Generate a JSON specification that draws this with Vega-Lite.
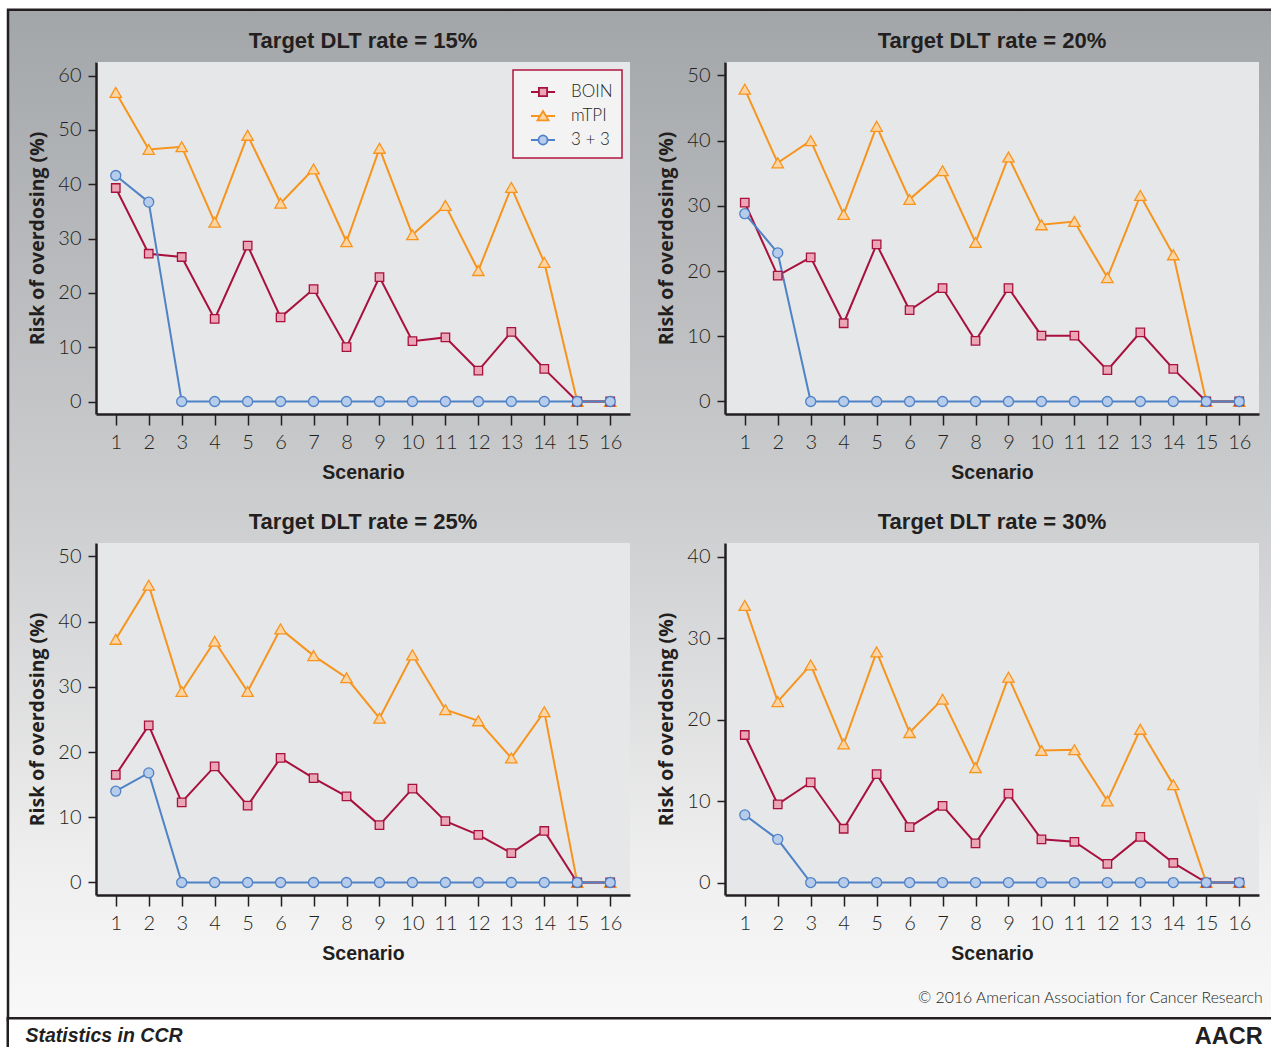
{
"$schema": "https://vega.github.io/schema/vega-lite/v6.json",
"padding": {"left": 6, "top": 8, "right": 0, "bottom": 0},
"background": "#ffffff",
"title": {"text": "AACR", "orient": "bottom", "anchor": "end", "offset": -31, "dx": -83, "font": "Liberation Sans", "fontSize": 23.5, "fontWeight": "bold", "color": "#231f20", "frame": "bounds"},
"datasets": {"risk": [
{"target":15,"method":"mTPI","scenario":1,"risk":56.9},{"target":15,"method":"mTPI","scenario":2,"risk":46.4},{"target":15,"method":"mTPI","scenario":3,"risk":46.9},{"target":15,"method":"mTPI","scenario":4,"risk":33.0},{"target":15,"method":"mTPI","scenario":5,"risk":49.0},{"target":15,"method":"mTPI","scenario":6,"risk":36.5},{"target":15,"method":"mTPI","scenario":7,"risk":42.8},{"target":15,"method":"mTPI","scenario":8,"risk":29.4},{"target":15,"method":"mTPI","scenario":9,"risk":46.6},{"target":15,"method":"mTPI","scenario":10,"risk":30.7},{"target":15,"method":"mTPI","scenario":11,"risk":36.1},{"target":15,"method":"mTPI","scenario":12,"risk":24.1},{"target":15,"method":"mTPI","scenario":13,"risk":39.4},{"target":15,"method":"mTPI","scenario":14,"risk":25.6},{"target":15,"method":"mTPI","scenario":15,"risk":0},{"target":15,"method":"mTPI","scenario":16,"risk":0},
{"target":15,"method":"BOIN","scenario":1,"risk":39.3},{"target":15,"method":"BOIN","scenario":2,"risk":27.2},{"target":15,"method":"BOIN","scenario":3,"risk":26.6},{"target":15,"method":"BOIN","scenario":4,"risk":15.2},{"target":15,"method":"BOIN","scenario":5,"risk":28.7},{"target":15,"method":"BOIN","scenario":6,"risk":15.5},{"target":15,"method":"BOIN","scenario":7,"risk":20.7},{"target":15,"method":"BOIN","scenario":8,"risk":10.0},{"target":15,"method":"BOIN","scenario":9,"risk":22.9},{"target":15,"method":"BOIN","scenario":10,"risk":11.1},{"target":15,"method":"BOIN","scenario":11,"risk":11.8},{"target":15,"method":"BOIN","scenario":12,"risk":5.7},{"target":15,"method":"BOIN","scenario":13,"risk":12.8},{"target":15,"method":"BOIN","scenario":14,"risk":6.0},{"target":15,"method":"BOIN","scenario":15,"risk":0},{"target":15,"method":"BOIN","scenario":16,"risk":0},
{"target":15,"method":"3 + 3","scenario":1,"risk":41.6},{"target":15,"method":"3 + 3","scenario":2,"risk":36.7},{"target":15,"method":"3 + 3","scenario":3,"risk":0},{"target":15,"method":"3 + 3","scenario":4,"risk":0},{"target":15,"method":"3 + 3","scenario":5,"risk":0},{"target":15,"method":"3 + 3","scenario":6,"risk":0},{"target":15,"method":"3 + 3","scenario":7,"risk":0},{"target":15,"method":"3 + 3","scenario":8,"risk":0},{"target":15,"method":"3 + 3","scenario":9,"risk":0},{"target":15,"method":"3 + 3","scenario":10,"risk":0},{"target":15,"method":"3 + 3","scenario":11,"risk":0},{"target":15,"method":"3 + 3","scenario":12,"risk":0},{"target":15,"method":"3 + 3","scenario":13,"risk":0},{"target":15,"method":"3 + 3","scenario":14,"risk":0},{"target":15,"method":"3 + 3","scenario":15,"risk":0},{"target":15,"method":"3 + 3","scenario":16,"risk":0},
{"target":20,"method":"mTPI","scenario":1,"risk":47.9},{"target":20,"method":"mTPI","scenario":2,"risk":36.6},{"target":20,"method":"mTPI","scenario":3,"risk":40.0},{"target":20,"method":"mTPI","scenario":4,"risk":28.7},{"target":20,"method":"mTPI","scenario":5,"risk":42.2},{"target":20,"method":"mTPI","scenario":6,"risk":31.0},{"target":20,"method":"mTPI","scenario":7,"risk":35.4},{"target":20,"method":"mTPI","scenario":8,"risk":24.4},{"target":20,"method":"mTPI","scenario":9,"risk":37.5},{"target":20,"method":"mTPI","scenario":10,"risk":27.1},{"target":20,"method":"mTPI","scenario":11,"risk":27.6},{"target":20,"method":"mTPI","scenario":12,"risk":19.0},{"target":20,"method":"mTPI","scenario":13,"risk":31.6},{"target":20,"method":"mTPI","scenario":14,"risk":22.5},{"target":20,"method":"mTPI","scenario":15,"risk":0},{"target":20,"method":"mTPI","scenario":16,"risk":0},
{"target":20,"method":"BOIN","scenario":1,"risk":30.5},{"target":20,"method":"BOIN","scenario":2,"risk":19.3},{"target":20,"method":"BOIN","scenario":3,"risk":22.1},{"target":20,"method":"BOIN","scenario":4,"risk":12.0},{"target":20,"method":"BOIN","scenario":5,"risk":24.1},{"target":20,"method":"BOIN","scenario":6,"risk":14.0},{"target":20,"method":"BOIN","scenario":7,"risk":17.4},{"target":20,"method":"BOIN","scenario":8,"risk":9.3},{"target":20,"method":"BOIN","scenario":9,"risk":17.4},{"target":20,"method":"BOIN","scenario":10,"risk":10.1},{"target":20,"method":"BOIN","scenario":11,"risk":10.1},{"target":20,"method":"BOIN","scenario":12,"risk":4.8},{"target":20,"method":"BOIN","scenario":13,"risk":10.6},{"target":20,"method":"BOIN","scenario":14,"risk":5.0},{"target":20,"method":"BOIN","scenario":15,"risk":0},{"target":20,"method":"BOIN","scenario":16,"risk":0},
{"target":20,"method":"3 + 3","scenario":1,"risk":28.8},{"target":20,"method":"3 + 3","scenario":2,"risk":22.8},{"target":20,"method":"3 + 3","scenario":3,"risk":0},{"target":20,"method":"3 + 3","scenario":4,"risk":0},{"target":20,"method":"3 + 3","scenario":5,"risk":0},{"target":20,"method":"3 + 3","scenario":6,"risk":0},{"target":20,"method":"3 + 3","scenario":7,"risk":0},{"target":20,"method":"3 + 3","scenario":8,"risk":0},{"target":20,"method":"3 + 3","scenario":9,"risk":0},{"target":20,"method":"3 + 3","scenario":10,"risk":0},{"target":20,"method":"3 + 3","scenario":11,"risk":0},{"target":20,"method":"3 + 3","scenario":12,"risk":0},{"target":20,"method":"3 + 3","scenario":13,"risk":0},{"target":20,"method":"3 + 3","scenario":14,"risk":0},{"target":20,"method":"3 + 3","scenario":15,"risk":0},{"target":20,"method":"3 + 3","scenario":16,"risk":0},
{"target":25,"method":"mTPI","scenario":1,"risk":37.3},{"target":25,"method":"mTPI","scenario":2,"risk":45.6},{"target":25,"method":"mTPI","scenario":3,"risk":29.3},{"target":25,"method":"mTPI","scenario":4,"risk":37.0},{"target":25,"method":"mTPI","scenario":5,"risk":29.3},{"target":25,"method":"mTPI","scenario":6,"risk":38.9},{"target":25,"method":"mTPI","scenario":7,"risk":34.8},{"target":25,"method":"mTPI","scenario":8,"risk":31.4},{"target":25,"method":"mTPI","scenario":9,"risk":25.2},{"target":25,"method":"mTPI","scenario":10,"risk":34.9},{"target":25,"method":"mTPI","scenario":11,"risk":26.5},{"target":25,"method":"mTPI","scenario":12,"risk":24.8},{"target":25,"method":"mTPI","scenario":13,"risk":19.1},{"target":25,"method":"mTPI","scenario":14,"risk":26.2},{"target":25,"method":"mTPI","scenario":15,"risk":0},{"target":25,"method":"mTPI","scenario":16,"risk":0},
{"target":25,"method":"BOIN","scenario":1,"risk":16.5},{"target":25,"method":"BOIN","scenario":2,"risk":24.1},{"target":25,"method":"BOIN","scenario":3,"risk":12.3},{"target":25,"method":"BOIN","scenario":4,"risk":17.8},{"target":25,"method":"BOIN","scenario":5,"risk":11.8},{"target":25,"method":"BOIN","scenario":6,"risk":19.1},{"target":25,"method":"BOIN","scenario":7,"risk":16.0},{"target":25,"method":"BOIN","scenario":8,"risk":13.2},{"target":25,"method":"BOIN","scenario":9,"risk":8.8},{"target":25,"method":"BOIN","scenario":10,"risk":14.4},{"target":25,"method":"BOIN","scenario":11,"risk":9.4},{"target":25,"method":"BOIN","scenario":12,"risk":7.3},{"target":25,"method":"BOIN","scenario":13,"risk":4.5},{"target":25,"method":"BOIN","scenario":14,"risk":7.9},{"target":25,"method":"BOIN","scenario":15,"risk":0},{"target":25,"method":"BOIN","scenario":16,"risk":0},
{"target":25,"method":"3 + 3","scenario":1,"risk":14.0},{"target":25,"method":"3 + 3","scenario":2,"risk":16.8},{"target":25,"method":"3 + 3","scenario":3,"risk":0},{"target":25,"method":"3 + 3","scenario":4,"risk":0},{"target":25,"method":"3 + 3","scenario":5,"risk":0},{"target":25,"method":"3 + 3","scenario":6,"risk":0},{"target":25,"method":"3 + 3","scenario":7,"risk":0},{"target":25,"method":"3 + 3","scenario":8,"risk":0},{"target":25,"method":"3 + 3","scenario":9,"risk":0},{"target":25,"method":"3 + 3","scenario":10,"risk":0},{"target":25,"method":"3 + 3","scenario":11,"risk":0},{"target":25,"method":"3 + 3","scenario":12,"risk":0},{"target":25,"method":"3 + 3","scenario":13,"risk":0},{"target":25,"method":"3 + 3","scenario":14,"risk":0},{"target":25,"method":"3 + 3","scenario":15,"risk":0},{"target":25,"method":"3 + 3","scenario":16,"risk":0},
{"target":30,"method":"mTPI","scenario":1,"risk":34.0},{"target":30,"method":"mTPI","scenario":2,"risk":22.2},{"target":30,"method":"mTPI","scenario":3,"risk":26.7},{"target":30,"method":"mTPI","scenario":4,"risk":17.0},{"target":30,"method":"mTPI","scenario":5,"risk":28.3},{"target":30,"method":"mTPI","scenario":6,"risk":18.4},{"target":30,"method":"mTPI","scenario":7,"risk":22.5},{"target":30,"method":"mTPI","scenario":8,"risk":14.1},{"target":30,"method":"mTPI","scenario":9,"risk":25.2},{"target":30,"method":"mTPI","scenario":10,"risk":16.2},{"target":30,"method":"mTPI","scenario":11,"risk":16.3},{"target":30,"method":"mTPI","scenario":12,"risk":10.0},{"target":30,"method":"mTPI","scenario":13,"risk":18.8},{"target":30,"method":"mTPI","scenario":14,"risk":12.0},{"target":30,"method":"mTPI","scenario":15,"risk":0},{"target":30,"method":"mTPI","scenario":16,"risk":0},
{"target":30,"method":"BOIN","scenario":1,"risk":18.1},{"target":30,"method":"BOIN","scenario":2,"risk":9.6},{"target":30,"method":"BOIN","scenario":3,"risk":12.3},{"target":30,"method":"BOIN","scenario":4,"risk":6.6},{"target":30,"method":"BOIN","scenario":5,"risk":13.3},{"target":30,"method":"BOIN","scenario":6,"risk":6.8},{"target":30,"method":"BOIN","scenario":7,"risk":9.4},{"target":30,"method":"BOIN","scenario":8,"risk":4.8},{"target":30,"method":"BOIN","scenario":9,"risk":10.9},{"target":30,"method":"BOIN","scenario":10,"risk":5.3},{"target":30,"method":"BOIN","scenario":11,"risk":5.0},{"target":30,"method":"BOIN","scenario":12,"risk":2.3},{"target":30,"method":"BOIN","scenario":13,"risk":5.6},{"target":30,"method":"BOIN","scenario":14,"risk":2.4},{"target":30,"method":"BOIN","scenario":15,"risk":0},{"target":30,"method":"BOIN","scenario":16,"risk":0},
{"target":30,"method":"3 + 3","scenario":1,"risk":8.3},{"target":30,"method":"3 + 3","scenario":2,"risk":5.3},{"target":30,"method":"3 + 3","scenario":3,"risk":0},{"target":30,"method":"3 + 3","scenario":4,"risk":0},{"target":30,"method":"3 + 3","scenario":5,"risk":0},{"target":30,"method":"3 + 3","scenario":6,"risk":0},{"target":30,"method":"3 + 3","scenario":7,"risk":0},{"target":30,"method":"3 + 3","scenario":8,"risk":0},{"target":30,"method":"3 + 3","scenario":9,"risk":0},{"target":30,"method":"3 + 3","scenario":10,"risk":0},{"target":30,"method":"3 + 3","scenario":11,"risk":0},{"target":30,"method":"3 + 3","scenario":12,"risk":0},{"target":30,"method":"3 + 3","scenario":13,"risk":0},{"target":30,"method":"3 + 3","scenario":14,"risk":0},{"target":30,"method":"3 + 3","scenario":15,"risk":0},{"target":30,"method":"3 + 3","scenario":16,"risk":0}
]},
"columns": 1,
"align": {"row": "none", "column": "each"},
"spacing": {"row": -5.5, "column": 0},
"concat": [
 {
  "columns": 1,
  "align": {"row": "none", "column": "each"},
  "center": {"row": false, "column": true},
  "spacing": {"row": -993, "column": 0},
  "concat": [
   {
    "width": 1334, "height": 1008,
    "data": {"values": [{}]},
    "mark": {"type": "rect", "color": {"gradient": "linear", "x1": 0, "y1": 0, "x2": 0, "y2": 1, "stops": [{"offset": 0, "color": "#a3a6a9"}, {"offset": 0.5, "color": "#cdced0"}, {"offset": 0.85, "color": "#efefef"}, {"offset": 1, "color": "#f8f8f8"}]}},
    "encoding": {},
    "view": {"stroke": "#231f20", "strokeWidth": 5},
    "title": {"text": "© 2016 American Association for Cancer Research", "orient": "bottom", "anchor": "end", "offset": -28.5, "dx": -80.5, "font": "Lato", "fontWeight": 300, "fontSize": 15.8, "color": "#231f20", "frame": "group"}
   },
   {
    "data": {"name": "risk"},
    "columns": 2,
    "align": "each",
    "spacing": {"row": 28, "column": 26},
    "resolve": {"scale": {"color": "independent"}, "legend": {"color": "independent"}},
    "concat": [
     {
      "title": {"text": "Target DLT rate = 15%"},
      "width": 534, "height": 352,
      "view": {"fill": "#e6e7e8", "stroke": null},
      "transform": [{"filter": "datum.target === 15"}],
      "encoding": {
       "x": {"field": "scenario", "type": "quantitative", "scale": {"domain": [0.4, 16.6], "nice": false, "zero": false}, "axis": {"title": "Scenario", "values": [1,2,3,4,5,6,7,8,9,10,11,12,13,14,15,16], "format": "d"}},
       "y": {"field": "risk", "type": "quantitative", "scale": {"domain": [-2.3, 62.49], "nice": false, "zero": false}, "axis": {"title": "Risk of overdosing (%)", "values": [0,10,20,30,40,50,60], "format": "d"}}
      },
      "layer": [
       {"mark": {"type": "line", "strokeWidth": 2}, "encoding": {"color": {"field": "method", "type": "nominal", "scale": {"domain": ["BOIN", "mTPI", "3 + 3"], "range": ["#a8113e", "#f7941d", "#4f82c6"]},
         "legend": {"title": null, "orient": "top-right", "offset": 8, "symbolSize": 576, "symbolStrokeWidth": 1.8, "labelFont": "Lato", "labelFontWeight": 300, "labelFontSize": 17, "labelColor": "#231f20", "labelOffset": 15, "rowPadding": 3, "padding": 9, "symbolOffset": 8, "fillColor": "#f3f3f4", "strokeColor": "#b2163e",
          "encode": {"symbols": {"update": {
           "shape": {"signal": "datum.value === 'BOIN' ? 'M-1,0H-0.34M0.34,0H1M-0.34,-0.34H0.34V0.34H-0.34Z' : datum.value === 'mTPI' ? 'M-1,0H-0.25M0.25,0H1M0,-0.42L0.46,0.36H-0.46Z' : 'M-1,0H-0.38M0.38,0H1M-0.38,0A0.38,0.38,0,1,0,0.38,0A0.38,0.38,0,1,0,-0.38,0Z'"},
           "fill": {"signal": "datum.value === 'BOIN' ? '#eaa6b5' : datum.value === 'mTPI' ? '#fdd4a3' : '#b7cceb'"},
           "fillOpacity": {"value": 1},
           "strokeWidth": {"value": 1.8},
           "opacity": {"value": 1}
          }}}}}}},
       {"transform": [{"filter": "datum.method === 'mTPI'"}], "mark": {"type": "point", "shape": "triangle-up", "size": 130, "filled": true, "fill": "#fdd4a3", "stroke": "#f7941d", "strokeWidth": 1.3, "opacity": 1}},
       {"transform": [{"filter": "datum.method === 'BOIN'"}], "mark": {"type": "point", "shape": "square", "size": 72, "filled": true, "fill": "#eaa6b5", "stroke": "#a8113e", "strokeWidth": 1.3, "opacity": 1}},
       {"transform": [{"filter": "datum.method === '3 + 3'"}], "mark": {"type": "point", "shape": "circle", "size": 100, "filled": true, "fill": "#b7cceb", "stroke": "#4f82c6", "strokeWidth": 1.3, "opacity": 1}}
      ]
     },
     {
      "title": {"text": "Target DLT rate = 20%"},
      "width": 534, "height": 352,
      "view": {"fill": "#e6e7e8", "stroke": null},
      "transform": [{"filter": "datum.target === 20"}],
      "encoding": {
       "x": {"field": "scenario", "type": "quantitative", "scale": {"domain": [0.4, 16.6], "nice": false, "zero": false}, "axis": {"title": "Scenario", "values": [1,2,3,4,5,6,7,8,9,10,11,12,13,14,15,16], "format": "d"}},
       "y": {"field": "risk", "type": "quantitative", "scale": {"domain": [-1.92, 52.07], "nice": false, "zero": false}, "axis": {"title": "Risk of overdosing (%)", "values": [0,10,20,30,40,50], "format": "d"}}
      },
      "layer": [
       {"mark": {"type": "line", "strokeWidth": 2}, "encoding": {"color": {"field": "method", "type": "nominal", "scale": {"domain": ["BOIN", "mTPI", "3 + 3"], "range": ["#a8113e", "#f7941d", "#4f82c6"]}, "legend": null}}},
       {"transform": [{"filter": "datum.method === 'mTPI'"}], "mark": {"type": "point", "shape": "triangle-up", "size": 130, "filled": true, "fill": "#fdd4a3", "stroke": "#f7941d", "strokeWidth": 1.3, "opacity": 1}},
       {"transform": [{"filter": "datum.method === 'BOIN'"}], "mark": {"type": "point", "shape": "square", "size": 72, "filled": true, "fill": "#eaa6b5", "stroke": "#a8113e", "strokeWidth": 1.3, "opacity": 1}},
       {"transform": [{"filter": "datum.method === '3 + 3'"}], "mark": {"type": "point", "shape": "circle", "size": 100, "filled": true, "fill": "#b7cceb", "stroke": "#4f82c6", "strokeWidth": 1.3, "opacity": 1}}
      ]
     },
     {
      "title": {"text": "Target DLT rate = 25%"},
      "width": 534, "height": 352,
      "view": {"fill": "#e6e7e8", "stroke": null},
      "transform": [{"filter": "datum.target === 25"}],
      "encoding": {
       "x": {"field": "scenario", "type": "quantitative", "scale": {"domain": [0.4, 16.6], "nice": false, "zero": false}, "axis": {"title": "Scenario", "values": [1,2,3,4,5,6,7,8,9,10,11,12,13,14,15,16], "format": "d"}},
       "y": {"field": "risk", "type": "quantitative", "scale": {"domain": [-1.92, 52.07], "nice": false, "zero": false}, "axis": {"title": "Risk of overdosing (%)", "values": [0,10,20,30,40,50], "format": "d"}}
      },
      "layer": [
       {"mark": {"type": "line", "strokeWidth": 2}, "encoding": {"color": {"field": "method", "type": "nominal", "scale": {"domain": ["BOIN", "mTPI", "3 + 3"], "range": ["#a8113e", "#f7941d", "#4f82c6"]}, "legend": null}}},
       {"transform": [{"filter": "datum.method === 'mTPI'"}], "mark": {"type": "point", "shape": "triangle-up", "size": 130, "filled": true, "fill": "#fdd4a3", "stroke": "#f7941d", "strokeWidth": 1.3, "opacity": 1}},
       {"transform": [{"filter": "datum.method === 'BOIN'"}], "mark": {"type": "point", "shape": "square", "size": 72, "filled": true, "fill": "#eaa6b5", "stroke": "#a8113e", "strokeWidth": 1.3, "opacity": 1}},
       {"transform": [{"filter": "datum.method === '3 + 3'"}], "mark": {"type": "point", "shape": "circle", "size": 100, "filled": true, "fill": "#b7cceb", "stroke": "#4f82c6", "strokeWidth": 1.3, "opacity": 1}}
      ]
     },
     {
      "title": {"text": "Target DLT rate = 30%"},
      "width": 534, "height": 352,
      "view": {"fill": "#e6e7e8", "stroke": null},
      "transform": [{"filter": "datum.target === 30"}],
      "encoding": {
       "x": {"field": "scenario", "type": "quantitative", "scale": {"domain": [0.4, 16.6], "nice": false, "zero": false}, "axis": {"title": "Scenario", "values": [1,2,3,4,5,6,7,8,9,10,11,12,13,14,15,16], "format": "d"}},
       "y": {"field": "risk", "type": "quantitative", "scale": {"domain": [-1.53, 41.66], "nice": false, "zero": false}, "axis": {"title": "Risk of overdosing (%)", "values": [0,10,20,30,40], "format": "d"}}
      },
      "layer": [
       {"mark": {"type": "line", "strokeWidth": 2}, "encoding": {"color": {"field": "method", "type": "nominal", "scale": {"domain": ["BOIN", "mTPI", "3 + 3"], "range": ["#a8113e", "#f7941d", "#4f82c6"]}, "legend": null}}},
       {"transform": [{"filter": "datum.method === 'mTPI'"}], "mark": {"type": "point", "shape": "triangle-up", "size": 130, "filled": true, "fill": "#fdd4a3", "stroke": "#f7941d", "strokeWidth": 1.3, "opacity": 1}},
       {"transform": [{"filter": "datum.method === 'BOIN'"}], "mark": {"type": "point", "shape": "square", "size": 72, "filled": true, "fill": "#eaa6b5", "stroke": "#a8113e", "strokeWidth": 1.3, "opacity": 1}},
       {"transform": [{"filter": "datum.method === '3 + 3'"}], "mark": {"type": "point", "shape": "circle", "size": 100, "filled": true, "fill": "#b7cceb", "stroke": "#4f82c6", "strokeWidth": 1.3, "opacity": 1}}
      ]
     }
    ]
   }
  ]
 },
 {
  "width": 1334, "height": 34,
  "data": {"values": [{}]},
  "mark": {"type": "rect", "color": "#ffffff"},
  "encoding": {},
  "view": {"stroke": "#231f20", "strokeWidth": 5},
  "title": {"text": "Statistics in CCR", "orient": "top", "anchor": "start", "offset": -26.5, "dx": 16.5, "font": "Liberation Sans", "fontStyle": "italic", "fontWeight": "bold", "fontSize": 19.5, "color": "#231f20", "frame": "group"}
 }
],
"config": {
 "view": {"stroke": null},
 "legend": {"strokeWidth": 1.5},
 "axis": {"domainColor": "#231f20", "domainWidth": 2.5, "tickColor": "#231f20", "tickWidth": 1.5, "labelFont": "Lato", "labelFontWeight": 300, "labelFontSize": 20, "labelColor": "#231f20", "titleColor": "#231f20", "grid": false},
 "axisX": {"tickSize": 11, "labelPadding": 7, "titlePadding": 11, "titleFont": "Liberation Sans", "titleFontWeight": "bold", "titleFontSize": 19.5, "labelAngle": 0},
 "axisY": {"tickSize": 8, "labelPadding": 7, "titlePadding": 10, "titleFont": "Open Sans", "titleFontWeight": "bold", "titleFontSize": 19.5},
 "title": {"font": "Liberation Sans", "fontWeight": "bold", "fontSize": 22, "color": "#231f20", "offset": 9.5}
}
}
